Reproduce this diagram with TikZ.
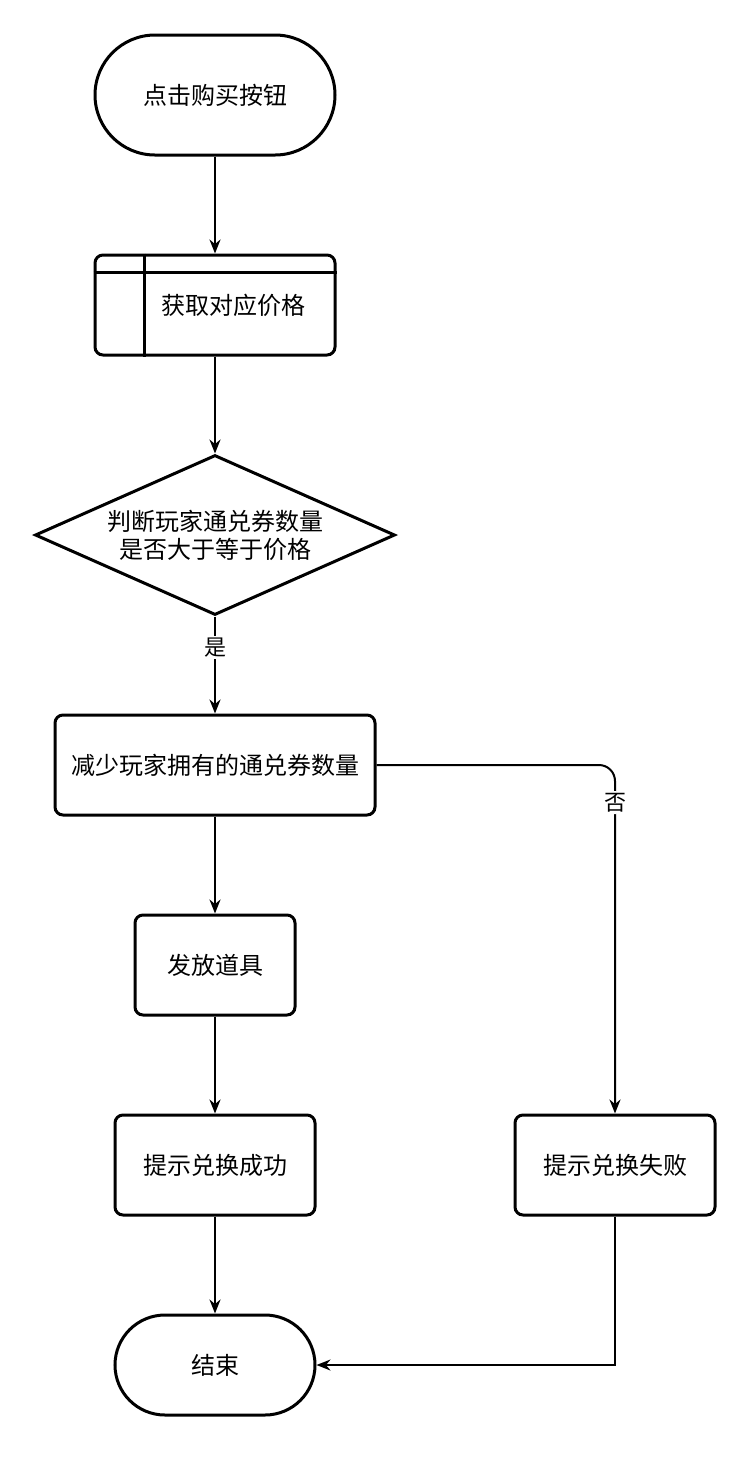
\documentclass[tikz,border=0pt]{standalone}
\usepackage{fontspec}
\newfontfamily\cjk{Noto Sans CJK SC}
\usetikzlibrary{arrows.meta,shapes.geometric}

\begin{document}
\begin{tikzpicture}[x=.5pt,y=-.5pt,
 every node/.style={font=\cjk\fontsize{12pt}{14pt}\selectfont},
 term/.style={draw,line width=1.5pt,rectangle,rounded corners=30pt,minimum width=120pt,minimum height=60pt},
 proc/.style={draw,line width=1.5pt,rectangle,rounded corners=4pt,minimum height=50pt},
 test/.style={draw,line width=1.5pt,diamond,aspect=2.25,inner sep=0pt,minimum width=180pt,minimum height=80pt,align=center},
 link/.style={line width=1pt,-{Stealth[length=7pt,width=5.5pt]}},
 lbl/.style={fill=white,inner sep=1pt,font=\cjk\fontsize{11pt}{13pt}\selectfont}]
 \useasboundingbox (0,0) rectangle (748,1458);
 \node[term] (buy) at (215,95) {点击购买按钮};
 \node[proc,minimum width=120pt] (get) at (215,305) {};
 \draw[line width=1.5pt] ([xshift=25.5pt]get.north west) -- ([xshift=25.5pt]get.south west)
   ([yshift=-9.5pt]get.north west) -- ([yshift=-9.5pt]get.north east);
 \node (gettxt) at (233,305) {获取对应价格};
 \node[test] (enough) at (215,535) {判断玩家通兑券数量\\是否大于等于价格};
 \node[proc,minimum width=160pt] (cut) at (215,765) {减少玩家拥有的通兑券数量};
 \node[proc,minimum width=80pt] (give) at (215,965) {发放道具};
 \node[proc,minimum width=100pt] (ok) at (215,1165) {提示兑换成功};
 \node[proc,minimum width=100pt] (fail) at (615,1165) {提示兑换失败};
 \node[term,rounded corners=25pt,minimum width=100pt,minimum height=50pt] (done) at (215,1365) {结束};
 % connectors
 \draw[link] (buy) -- (get);
 \draw[link] (get) -- (enough);
 \draw[link] (enough) -- node[lbl,pos=.32] (yes) {是} (cut);
 \draw[link] (cut) -- (give);
 \draw[link] (give) -- (ok);
 \draw[link] (ok) -- (done);
 \draw[link,rounded corners=8pt] (cut.east) -| node[lbl,pos=.554] (no) {否} (fail.north);
 \draw[link] (fail.south) |- (done.east);
\end{tikzpicture}
\end{document}
